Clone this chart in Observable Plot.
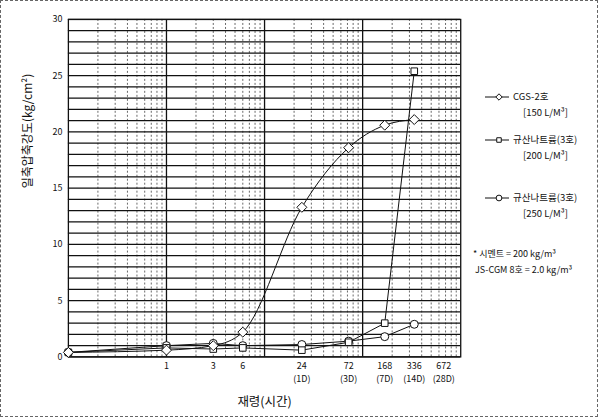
<!DOCTYPE html>
<html><head><meta charset="utf-8">
<script src="https://cdn.jsdelivr.net/npm/d3@7"></script>
<script src="https://cdn.jsdelivr.net/npm/@observablehq/plot@0.6"></script>
<style>
body{margin:0;background:#fff;}
#wrap{position:relative;width:598px;height:417px;box-sizing:border-box;border:1px dashed #666;overflow:hidden;font-family:"Noto Sans CJK KR","Noto Sans",sans-serif;color:#111;}
#chart{position:absolute;left:-1px;top:-1px;}
.lg{position:absolute;font-size:9.5px;line-height:16px;white-space:nowrap;}
.lg svg{vertical-align:middle;margin-right:4px;}
</style></head><body><div id="wrap"><div id="chart"></div></div>
<script>
// data (hours; 0 is drawn at the left edge of the log axis, 0.1)
const hours = [0, 1, 3, 6, 24, 72, 168, 336];
const cgs = [0.4, 0.6, 1.0, 2.2, 13.3, 18.6, 20.6, 21.1];
const sil200 = [0.4, 0.8, 0.7, 0.8, 0.6, 1.3, 3.0, 25.4];
const sil250 = [0.4, 1.0, 1.2, 1.0, 1.1, 1.4, 1.8, 2.9];
const tickHours = [1, 3, 6, 24, 72, 168, 336, 672];
const dayTicks = [24, 72, 168, 336, 672];
const dayLabels = ["(1D)", "(3D)", "(7D)", "(14D)", "(28D)"];
const yTicks = [0, 5, 10, 15, 20, 25, 30];
const seriesSymbols = ["diamond2", "square2", "circle"];

const zeroPos = 0.1;
const toX = h => (h === 0 ? zeroPos : h);
const rows = (vals, key) => hours.map((h, i) => ({x: toX(h), y: vals[i], key}));
const dCgs = rows(cgs, "cgs"), d200 = rows(sil200, "s200"), d250 = rows(sil250, "s250");

const minor = [];
for (const p of [0.1, 1, 10, 100]) for (let k = 2; k <= 9; k++) minor.push(+(p * k).toPrecision(3));
const major = [1, 10, 100];
const hLines = d3.range(0, 31);

const font = '"Noto Sans CJK KR","Noto Sans",sans-serif';
const chart = Plot.plot({
  width: 598, height: 417,
  marginLeft: 68, marginRight: 137, marginTop: 19, marginBottom: 60,
  style: {fontFamily: font, fontSize: "9px", color: "#111", background: "transparent"},
  x: {type: "log", domain: [0.1, 1000], axis: null},
  y: {domain: [0, 30], axis: null},
  marks: [
    Plot.ruleX(minor, {stroke: "#444", strokeWidth: 0.8, strokeDasharray: "2,2"}),
    Plot.ruleY(hLines, {stroke: "#111", strokeWidth: 1.2}),
    Plot.ruleX(major, {stroke: "#111", strokeWidth: 1.3}),
    Plot.frame({stroke: "#111", strokeWidth: 1.3}),
    Plot.text(yTicks, {y: d => d, text: d => String(d), frameAnchor: "left", dx: -6, textAnchor: "end", fontSize: 9, fill: "#111"}),
    Plot.text(tickHours, {x: d => d, text: d => String(d), frameAnchor: "bottom", dy: 12, fontSize: 9, fill: "#111"}),
    Plot.text(dayTicks, {x: d => d, text: d => dayLabels[dayTicks.indexOf(d)], frameAnchor: "bottom", dy: 25, fontSize: 9, fill: "#111"}),
    Plot.text(["재령(시간)"], {frameAnchor: "bottom", dy: 49, fontSize: 12.5, fill: "#111"}),
    Plot.text(["일축압축강도(kg/cm²)"], {frameAnchor: "left", dx: -40, rotate: -90, fontSize: 12, fill: "#111"}),
    Plot.line(d250, {x: "x", y: "y", stroke: "#111", strokeWidth: 1}),
    Plot.line(d200, {x: "x", y: "y", stroke: "#111", strokeWidth: 1}),
    Plot.line(dCgs, {x: "x", y: "y", stroke: "#111", strokeWidth: 1, curve: "monotone-x"}),
    Plot.dot(d250, {x: "x", y: "y", symbol: () => seriesSymbols[2], r: 4, fill: "white", stroke: "#111", strokeWidth: 1}),
    Plot.dot(d200, {x: "x", y: "y", symbol: () => seriesSymbols[1], r: 4.2, fill: "white", stroke: "#111", strokeWidth: 1}),
    Plot.dot(dCgs, {x: "x", y: "y", symbol: () => seriesSymbols[0], r: 4.5, fill: "white", stroke: "#111", strokeWidth: 1})
  ]
});
document.getElementById("chart").appendChild(chart);

// legend
const legendItems = [
  {sym: seriesSymbols[0], name: "CGS-2호", sub: "[150 L/M³]", top: 95},
  {sym: seriesSymbols[1], name: "규산나트륨(3호)", sub: "[200 L/M³]", top: 138},
  {sym: seriesSymbols[2], name: "규산나트륨(3호)", sub: "[250 L/M³]", top: 196}
];
const wrap = document.getElementById("wrap");
for (const it of legendItems) {
  const el = document.createElement("div");
  el.className = "lg";
  el.style.left = "484px"; el.style.top = (it.top - 8) + "px";
  const s = d3.create("svg").attr("width", 24).attr("height", 12);
  s.append("line").attr("x1", 0).attr("x2", 24).attr("y1", 6).attr("y2", 6).attr("stroke", "#111");
  s.append("path").attr("transform", "translate(14,6)")
    .attr("d", d3.symbol().type(
      it.sym === "circle" ? d3.symbolCircle : it.sym === "square2" ? d3.symbolSquare2 : d3.symbolDiamond2).size(26)())
    .attr("fill", "white").attr("stroke", "#111");
  el.appendChild(s.node());
  el.appendChild(document.createTextNode(it.name));
  el.appendChild(document.createElement("br"));
  const sub = document.createElement("span");
  sub.style.paddingLeft = "38px";
  sub.textContent = it.sub;
  el.appendChild(sub);
  wrap.appendChild(el);
}
const note = document.createElement("div");
note.className = "lg";
note.style.left = "472px"; note.style.top = "245px"; note.style.fontSize = "9px";
note.innerHTML = "* 시멘트 = 200 kg/m³<br>&nbsp;JS-CGM 8호 = 2.0 kg/m³";
wrap.appendChild(note);
</script></body></html>
